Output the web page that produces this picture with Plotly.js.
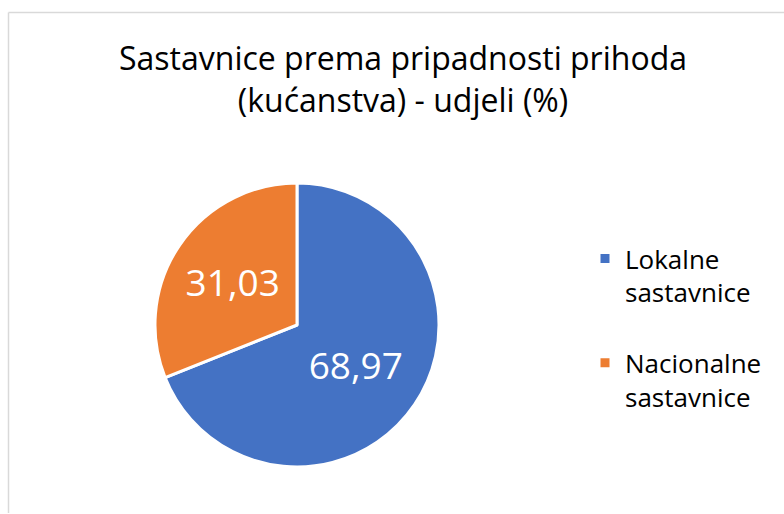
<!DOCTYPE html>
<html>
<head>
<meta charset="utf-8">
<script src="https://cdn.plot.ly/plotly-3.0.1.min.js"></script>
<style>html,body{margin:0;padding:0;background:#fff;}#chart{width:784px;height:514px;}</style>
</head>
<body>
<div id="chart"></div>
<script>
const categories = ["Lokalne sastavnice", "Nacionalne sastavnice"];
const shares = [68.97, 31.03];
const colors = ["#4472C4", "#ED7D31"];
const titleText = "Sastavnice prema pripadnosti prihoda<br>(kućanstva) - udjeli (%)";

const W = 784, H = 514;
const font = "'Open Sans', 'Noto Sans', sans-serif";

// legend labels: wrap after first word, plus a blank line for item spacing
const legendLabels = categories.map(c => c.replace(" ", "<br>") + "<br>\u00a0");

const trace = {
  type: "pie",
  labels: legendLabels,
  values: shares,
  sort: false,
  direction: "clockwise",
  rotation: 0,
  marker: {colors: colors, line: {color: "#ffffff", width: 3}},
  texttemplate: "%{value:.2f}",
  textposition: "inside",
  insidetextorientation: "horizontal",
  textfont: {color: "#ffffff", size: 37, family: font},
  hoverinfo: "none",
  domain: {x: [155 / W, 439 / W], y: [1 - 467 / H, 1 - 183 / H]}
};

const layout = {
  width: W, height: H,
  margin: {l: 0, r: 0, t: 0, b: 0},
  paper_bgcolor: "#ffffff",
  separators: ",.",
  showlegend: true,
  title: {
    text: titleText,
    x: 403 / W, xanchor: "center",
    y: 1 - 70 / H, yanchor: "top",
    font: {family: font, size: 32, color: "#000000"}
  },
  legend: {
    x: 585 / W, xanchor: "left",
    y: 1 - 235 / H, yanchor: "top",
    valign: "top",
    font: {family: font, size: 26, color: "#000000"},
    bgcolor: "rgba(0,0,0,0)"
  },
  shapes: [
    {type: "line", xref: "paper", yref: "paper",
     x0: 8.5 / W, x1: 8.5 / W, y0: 1 - 513 / H, y1: 1 - 12.5 / H,
     line: {color: "#d9d9d9", width: 1.5}},
    {type: "line", xref: "paper", yref: "paper",
     x0: 8.5 / W, x1: 1, y0: 1 - 12.5 / H, y1: 1 - 12.5 / H,
     line: {color: "#d9d9d9", width: 1.5}}
  ]
};

Plotly.newPlot("chart", [trace], layout, {displayModeBar: false, staticPlot: true});
</script>
</body>
</html>
